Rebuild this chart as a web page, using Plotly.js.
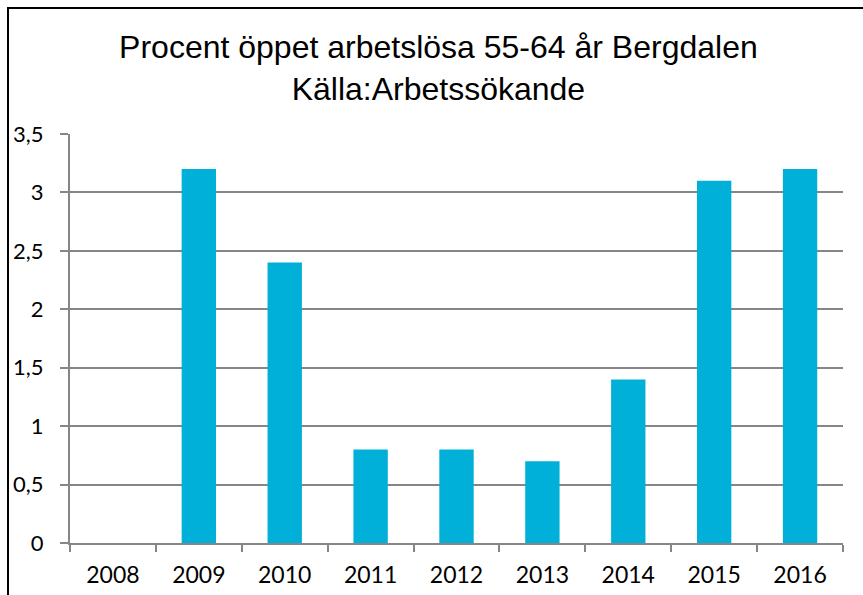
<!DOCTYPE html>
<html>
<head>
<meta charset="utf-8">
<script src="https://cdn.plot.ly/plotly-3.0.1.min.js"></script>
<style>
html,body{margin:0;padding:0;background:#fff;}
#wrap{position:relative;width:863px;height:595px;overflow:hidden;}
#chart{width:863px;height:595px;}
#frame{position:absolute;left:7px;top:7px;width:900px;height:700px;border:2px solid #000;box-sizing:border-box;pointer-events:none;}
</style>
</head>
<body>
<div id="wrap"><div id="chart"></div><div id="frame"></div></div>
<script>
var years = ["2008","2009","2010","2011","2012","2013","2014","2015","2016"];
var values = [0, 3.2, 2.4, 0.8, 0.8, 0.7, 1.4, 3.1, 3.2];
var yTickVals = [0, 0.5, 1, 1.5, 2, 2.5, 3, 3.5];
var yTickText = ["0", "0,5", "1", "1,5", "2", "2,5", "3", "3,5"];
var titleLines = ["Procent öppet arbetslösa 55-64 år Bergdalen", "Källa:Arbetssökande"];

var trace = {
  type: "bar",
  x: years,
  y: values,
  marker: {color: "#00B0D8"},
  hoverinfo: "x+y"
};

var layout = {
  width: 863,
  height: 595,
  margin: {l: 70, r: 20, t: 134, b: 52},
  paper_bgcolor: "#fff",
  plot_bgcolor: "#fff",
  bargap: 0.6,
  showlegend: false,
  title: {
    text: titleLines.join("<br>"),
    font: {family: "Liberation Sans, Arial, sans-serif", size: 32, color: "#000"},
    x: 0.508,
    xanchor: "center",
    y: 1 - 58/595,
    yref: "container",
    yanchor: "top"
  },
  xaxis: {
    type: "category",
    tickson: "boundaries",
    ticks: "outside",
    ticklen: 7,
    tickcolor: "#868686",
    tickwidth: 2,
    showline: true,
    linecolor: "#868686",
    linewidth: 2,
    showgrid: false,
    ticklabelstandoff: 10,
    tickfont: {family: "Lato, sans-serif", size: 23, color: "#000"},
    fixedrange: true
  },
  yaxis: {
    range: [0, 3.5],
    tickvals: yTickVals,
    ticktext: yTickText,
    ticks: "outside",
    ticklen: 8,
    tickcolor: "#868686",
    tickwidth: 2,
    showline: true,
    linecolor: "#868686",
    linewidth: 2,
    showgrid: true,
    gridcolor: "#868686",
    gridwidth: 2,
    zeroline: false,
    ticklabelstandoff: 12,
    tickfont: {family: "Lato, sans-serif", size: 22, color: "#000"},
    fixedrange: true
  }
};

Plotly.newPlot("chart", [trace], layout, {displayModeBar: false, staticPlot: true});
</script>
</body>
</html>
